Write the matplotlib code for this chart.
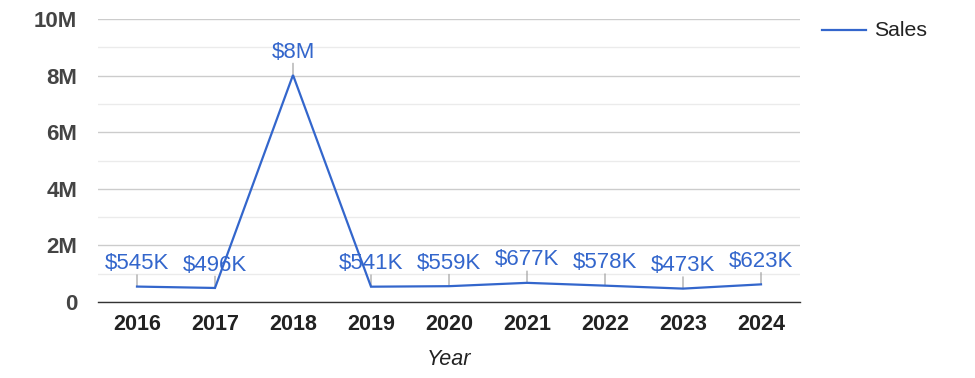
import matplotlib
matplotlib.use("Agg")
import matplotlib.pyplot as plt
from matplotlib.lines import Line2D
from matplotlib.ticker import MultipleLocator

years = ["2016", "2017", "2018", "2019", "2020", "2021", "2022", "2023", "2024"]
sales = [545000, 496000, 8020000, 541000, 559000, 677000, 578000, 473000, 623000]
labels = ["$545K", "$496K", "$8M", "$541K", "$559K", "$677K", "$578K", "$473K", "$623K"]
y_ticks = [0, 2e6, 4e6, 6e6, 8e6, 10e6]
y_tick_labels = ["0", "2M", "4M", "6M", "8M", "10M"]

plt.rcParams['font.family'] = ['Liberation Sans', 'DejaVu Sans']

W, H = 975, 378
fig = plt.figure(figsize=(W / 100, H / 100), dpi=100)
L, R, T, B = 98, 800, 19, 302
ax = fig.add_axes([L / W, 1 - B / H, (R - L) / W, (B - T) / H])

blue = "#3366cc"
x = list(range(len(years)))
ax.set_xlim(-0.5, len(years) - 0.5)
ax.set_ylim(0, 10e6)

# gridlines
ax.yaxis.set_minor_locator(MultipleLocator(1e6))
ax.grid(which="minor", axis="y", color="#ebebeb", linewidth=1)
ax.grid(which="major", axis="y", color="#cccccc", linewidth=1)
ax.set_axisbelow(True)
for s in ["top", "right", "left"]:
    ax.spines[s].set_visible(False)
ax.spines["bottom"].set_color("#333333")
ax.spines["bottom"].set_linewidth(1)
ax.spines["bottom"].set_zorder(1)

ax.plot(x, sales, color=blue, linewidth=1.6, zorder=3, solid_joinstyle="miter")

# data labels with leader lines
for xi, v, lab in zip(x, sales, labels):
    ax.annotate("", xy=(xi, v), xytext=(0, 8.5), textcoords="offset points",
                arrowprops=dict(arrowstyle="-", color="#999999", lw=0.8,
                                shrinkA=0, shrinkB=0), zorder=2)
    ax.annotate(lab, xy=(xi, v), xytext=(0, 16.5), textcoords="offset points",
                ha="center", va="center", color=blue, fontsize=16, zorder=4)

ax.set_yticks(y_ticks)
ax.set_yticklabels(y_tick_labels, fontsize=16, fontweight="bold", color="#444444")
ax.set_xticks(x)
ax.set_xticklabels(years, fontsize=15.5, fontweight="bold", color="#222222")
ax.tick_params(axis="y", which="both", length=0, pad=15)
ax.tick_params(axis="x", which="both", length=0, pad=9)
ax.set_xlabel("Year", fontsize=15.5, fontstyle="italic", color="#222222", labelpad=10)

# legend
fig.add_artist(Line2D([822 / W, 866 / W], [1 - 30 / H, 1 - 30 / H], color=blue, linewidth=1.6))
fig.text(874 / W, 1 - 30 / H, "Sales", fontsize=15.3, color="#222222", va="center", ha="left")

fig.savefig("out.png", dpi=100)
